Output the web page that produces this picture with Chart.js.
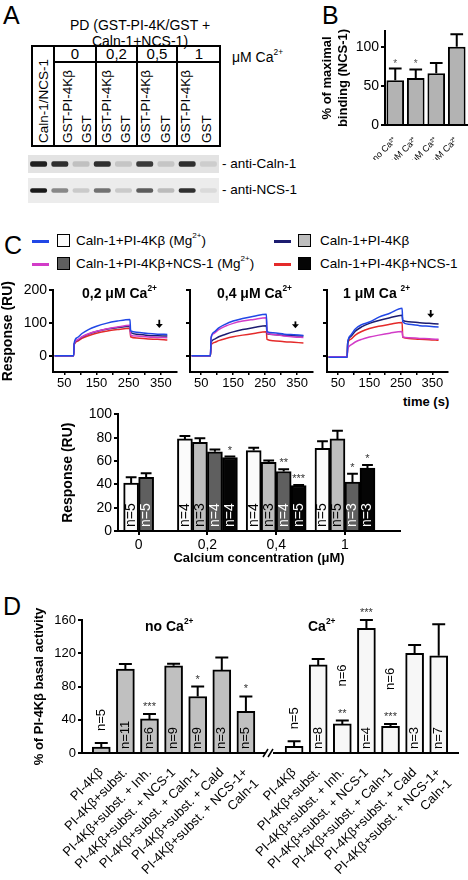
<!DOCTYPE html>
<html>
<head>
<meta charset="utf-8">
<title>PI-4Kβ / Caln-1 / NCS-1 figure</title>
<script src="https://cdn.jsdelivr.net/npm/chart.js@4.4.1/dist/chart.umd.min.js"></script>
<style>
  body { margin: 0; width: 468px; height: 880px; position: relative; overflow: hidden; background: #fff;
         font-family: "Liberation Sans", Arial, sans-serif; color: #000; }
  .t { position: absolute; white-space: nowrap; line-height: 1; }
  .letter { font-size: 25px; }
  .b { font-weight: bold; }
  sup { font-size: 60%; line-height: 0; position: relative; top: -0.15em; vertical-align: super; }
  canvas { position: absolute; }
  .blot { filter: blur(0.6px); }
  .ln { position: absolute; background: #000; }
  .rot { position: absolute; white-space: nowrap; transform-origin: 0 0; transform: rotate(-90deg);
         font-size: 13.5px; line-height: 15px; }
  .sw { position: absolute; width: 17px; height: 3px; }
  .sq { position: absolute; width: 11px; height: 11px; border: 1.5px solid #000; }
  .hd { position: absolute; top: 46px; font-size: 15px; text-align: center; line-height: 1; }
</style>
</head>
<body>

<!-- panel A -->
<div class="t letter" style="left:3px;top:3px">A</div>
<div class="t" style="left:40px;top:17px;width:200px;text-align:center;font-size:14px;line-height:16px">PD (GST-PI-4K/GST +<br>Caln-1+NCS-1)</div>
<div style="position:absolute;left:31px;top:45px;width:190px;height:102px;border:2px solid #000;box-sizing:border-box"></div>
<div class="ln" style="left:53px;top:45px;width:2px;height:102px"></div>
<div class="ln" style="left:95px;top:45px;width:2px;height:102px"></div>
<div class="ln" style="left:136px;top:45px;width:2px;height:102px"></div>
<div class="ln" style="left:176px;top:45px;width:2px;height:102px"></div>
<div class="ln" style="left:54px;top:61px;width:167px;height:2px"></div>
<div class="hd" style="left:55px;width:40px">0</div>
<div class="hd" style="left:97px;width:39px">0,2</div>
<div class="hd" style="left:138px;width:38px">0,5</div>
<div class="hd" style="left:178px;width:42px">1</div>
<div class="t" style="left:232px;top:50px;font-size:14px">μM Ca<sup>2+</sup></div>
<div class="rot" style="left:36px;top:143px">Caln-1/NCS-1</div>
<div class="rot" style="left:60px;top:143px">GST-PI-4Kβ</div>
<div class="rot" style="left:79px;top:143px">GST</div>
<div class="rot" style="left:99px;top:143px">GST-PI-4Kβ</div>
<div class="rot" style="left:118px;top:143px">GST</div>
<div class="rot" style="left:138px;top:143px">GST-PI-4Kβ</div>
<div class="rot" style="left:158px;top:143px">GST</div>
<div class="rot" style="left:178px;top:143px">GST-PI-4Kβ</div>
<div class="rot" style="left:199px;top:143px">GST</div>
<canvas id="blotCaln" class="blot" width="191" height="18" style="left:28px;top:155px;background:#e3e3e3"></canvas>
<canvas id="blotNcs" class="blot" width="191" height="25" style="left:28px;top:178px;background:#ececec"></canvas>
<div class="t" style="left:222px;top:157px;font-size:13.5px">- anti-Caln-1</div>
<div class="t" style="left:222px;top:183px;font-size:13.5px">- anti-NCS-1</div>

<!-- panel B -->
<div class="t letter" style="left:322px;top:3px">B</div>
<canvas id="chartB" width="148" height="140" style="left:320px;top:20px"></canvas>

<!-- panel C legend -->
<div class="t letter" style="left:4px;top:233px">C</div>
<div class="sw" style="left:32px;top:240px;background:#2147e6"></div>
<div class="sq" style="left:57px;top:234px;background:#fbfbfb"></div>
<div class="t" style="left:76px;top:234px;font-size:13.5px">Caln-1+PI-4Kβ (Mg<sup>2+</sup>)</div>
<div class="sw" style="left:32px;top:263px;background:#d23cc8"></div>
<div class="sq" style="left:57px;top:257px;background:#5f5f5f"></div>
<div class="t" style="left:76px;top:257px;font-size:13.5px">Caln-1+PI-4Kβ+NCS-1 (Mg<sup>2+</sup>)</div>
<div class="sw" style="left:274px;top:240px;background:#1c1c70"></div>
<div class="sq" style="left:298px;top:234px;background:#bdbdbd"></div>
<div class="t" style="left:320px;top:234px;font-size:13.5px">Caln-1+PI-4Kβ</div>
<div class="sw" style="left:274px;top:263px;background:#e42a2a"></div>
<div class="sq" style="left:298px;top:257px;background:#050505"></div>
<div class="t" style="left:320px;top:257px;font-size:13.5px">Caln-1+PI-4Kβ+NCS-1</div>

<!-- panel C sensorgrams -->
<canvas id="sensor1" width="180" height="112" style="left:0px;top:280px"></canvas>
<canvas id="sensor2" width="136" height="112" style="left:180px;top:280px"></canvas>
<canvas id="sensor3" width="135" height="112" style="left:316px;top:280px"></canvas>
<div class="t b" style="left:82px;top:286px;font-size:14px">0,2 μM Ca<sup>2+</sup></div>
<div class="t b" style="left:217px;top:286px;font-size:14px">0,4 μM Ca<sup>2+</sup></div>
<div class="t b" style="left:343px;top:286px;font-size:14px">1 μM Ca <sup>2+</sup></div>
<div class="t b" style="left:403px;top:395px;font-size:13px">time (s)</div>

<!-- panel C bars -->
<canvas id="chartCbars" width="345" height="166" style="left:60px;top:404px"></canvas>

<!-- panel D -->
<div class="t letter" style="left:3px;top:594px">D</div>
<canvas id="chartD" width="438" height="285" style="left:30px;top:595px"></canvas>
<div class="t b" style="left:145px;top:619px;font-size:14px">no Ca<sup>2+</sup></div>
<div class="t b" style="left:308px;top:619px;font-size:14px">Ca<sup>2+</sup></div>

<script>
const FONT = '"Liberation Sans", Arial, sans-serif'
Chart.defaults.font.family = FONT
Chart.defaults.color = "#000"
Chart.defaults.animation = false

// ---- A: blot band intensities per lane ----
const blotLanes = ["Caln-1/NCS-1", "GST-PI-4Kβ 0", "GST 0", "GST-PI-4Kβ 0,2", "GST 0,2",
                   "GST-PI-4Kβ 0,5", "GST 0,5", "GST-PI-4Kβ 1", "GST 1"]
const caln1Bands = [0.92, 0.85, 0.16, 0.85, 0.14, 0.8, 0.14, 0.85, 0.1]
const ncs1Bands = [0.95, 0.45, 0.15, 0.55, 0.15, 0.65, 0.22, 0.85, 0.08]

// ---- B: % of maximal binding (NCS-1) ----
const bLabels = ["no Ca²⁺", "0,2 μM Ca²⁺", "0,5 μM Ca²⁺", "1 μM Ca²⁺"]
const bValues = [57, 60, 66, 100]
const bErrors = [15, 11, 13, 16]
const bStars = ["*", "*", "", ""]

// ---- C: sensorgrams (time in s, response in RU) ----
const sensorTimes = [20, 79, 81, 90, 105, 125, 150, 180, 215, 254, 256, 275, 310, 340, 370]
const ca02Blue    = [0, 0, 40, 55, 68, 80, 90, 99, 106, 111, 76, 72, 68, 66, 65]
const ca02Magenta = [0, 0, 36, 48, 58, 67, 75, 82, 88, 93, 63, 60, 57, 56, 55]
const ca02Navy    = [0, 0, 36, 47, 57, 66, 74, 81, 86, 90, 71, 66, 62, 61, 60]
const ca02Red     = [0, 0, 34, 44, 53, 61, 69, 75, 80, 84, 58, 54, 51, 50, 48]
const ca04Blue    = [0, 0, 55, 72, 85, 96, 106, 114, 121, 127, 74, 70, 66, 64, 62]
const ca04Magenta = [0, 0, 55, 68, 80, 90, 99, 106, 111, 116, 70, 65, 60, 57, 56]
const ca04Navy    = [0, 0, 40, 50, 58, 65, 73, 80, 86, 92, 68, 65, 62, 61, 60]
const ca04Red     = [0, 0, 32, 40, 46, 52, 58, 63, 68, 73, 50, 46, 43, 41, 39]
const ca1Blue     = [-5, -5, 40, 62, 82, 95, 103, 118, 130, 145, 104, 96, 92, 90, 88]
const ca1Magenta  = [-3, -3, 20, 32, 42, 50, 57, 63, 69, 74, 58, 55, 53, 52, 50]
const ca1Navy     = [-5, -5, 40, 58, 75, 88, 99, 108, 116, 124, 108, 104, 101, 99, 97]
const ca1Red      = [-3, -3, 38, 50, 63, 74, 83, 90, 96, 102, 56, 53, 50, 49, 47]
const sensorTicks = [50, 100, 150, 200, 250, 300, 350]
const arrowTime = 345
const arrowRU = [[110, 85], [105, 84], [140, 116]]

// ---- C: steady-state response vs calcium ----
const concLabels = ["0", "0,2", "0,4", "1"]
const respMg      = [41, 79, 69, 71]
const respMgErr   = [5, 2.5, 2.5, 6]
const respMgN     = ["n=5", "n=4", "n=4", "n=5"]
const respPI      = [null, 76, 59, 79]
const respPIErr   = [0, 3.5, 1.5, 7]
const respPIN     = [null, "n=3", "n=3", "n=5"]
const respNcsMg   = [46, 68, 51, 42]
const respNcsMgErr = [3.5, 2, 2, 7]
const respNcsMgN  = ["n=5", "n=4", "n=4", "n=3"]
const respNcsMgStars = ["", "", "**", "*"]
const respNcs     = [null, 63, 39, 54]
const respNcsErr  = [0, 0.8, 0.5, 2.5]
const respNcsN    = [null, "n=4", "n=5", "n=3"]
const respNcsStars = ["", "*", "***", "*"]

// ---- D: % of PI-4Kβ basal activity ----
const dLabels = ["PI-4Kβ", "PI-4Kβ+subst.", "PI-4Kβ+subst. + Inh.", "PI-4Kβ+subst. + NCS-1",
                 "PI-4Kβ+subst. + Caln-1", "PI-4Kβ+subst. + Cald", ["PI-4Kβ+subst. + NCS-1+", "Caln-1"]]
const noCaValues = [7, 101, 41, 105, 68, 100, 50]
const noCaErrors = [5, 6, 6, 2.5, 12, 15, 18]
const noCaN      = ["n=5", "n=11", "n=6", "n=9", "n=9", "n=3", "n=5"]
const noCaStars  = ["", "", "***", "", "*", "", "*"]
const caValues   = [8, 106, 35, 150, 32, 120, 117]
const caErrors   = [6, 7, 4, 10, 3, 10, 38]
const caN        = ["n=5", "n=8", "n=6", "n=4", "n=6", "n=3", "n=7"]
const caStars    = ["", "", "**", "***", "***", "", ""]

const setTicks = (values) => (scale) => { scale.ticks = values.map(v => ({ value: v })) }

// one-sided error bars with a cap
const errorBars = {
  id: "errorBars",
  afterDatasetsDraw(chart) {
    const ctx = chart.ctx
    const y = chart.scales.y
    chart.data.datasets.forEach((ds, di) => {
      if (!ds.errors) return
      chart.getDatasetMeta(di).data.forEach((bar, i) => {
        const raw = ds.data[i]
        const v = raw !== null && typeof raw === "object" ? raw.y : raw
        const e = ds.errors[i]
        if (v == null || !e) return
        const top = y.getPixelForValue(v + e)
        const half = bar.width * 0.36
        ctx.save()
        ctx.strokeStyle = "#000"
        ctx.lineWidth = 2
        ctx.beginPath()
        ctx.moveTo(bar.x, bar.y)
        ctx.lineTo(bar.x, top)
        ctx.moveTo(bar.x - half, top)
        ctx.lineTo(bar.x + half, top)
        ctx.stroke()
        ctx.restore()
      })
    })
  }
}

// significance stars and rotated n= labels
const barNotes = {
  id: "barNotes",
  afterDatasetsDraw(chart, args, opts) {
    const ctx = chart.ctx
    const y = chart.scales.y
    chart.data.datasets.forEach((ds, di) => {
      chart.getDatasetMeta(di).data.forEach((bar, i) => {
        const raw = ds.data[i]
        const v = raw !== null && typeof raw === "object" ? raw.y : raw
        if (v == null) return
        const errTop = y.getPixelForValue(v + ((ds.errors && ds.errors[i]) || 0))
        const star = ds.stars && ds.stars[i]
        ctx.save()
        if (star) {
          ctx.font = opts.starFont
          ctx.fillStyle = opts.starColor || "#000"
          ctx.textAlign = "center"
          ctx.textBaseline = "alphabetic"
          ctx.fillText(star, bar.x, errTop - opts.starGap + 6)
        }
        const n = ds.nLabels && ds.nLabels[i]
        if (n) {
          let start
          if (v >= (opts.insideMin || 0)) start = bar.base - opts.nPad
          else start = errTop - opts.aboveGap - (star ? opts.starRoom : 0)
          ctx.translate(bar.x, start)
          ctx.rotate(-Math.PI / 2)
          ctx.font = opts.nFont
          ctx.fillStyle = ds.nColor || "#000"
          ctx.textAlign = "left"
          ctx.textBaseline = "middle"
          ctx.fillText(n, 0, 0)
        }
        ctx.restore()
      })
    })
  }
}

// down arrow marking the dissociation read-out
const arrowMark = {
  id: "arrowMark",
  afterDatasetsDraw(chart, args, opts) {
    if (!opts.ru) return
    const { ctx, scales: { x, y } } = chart
    const px = x.getPixelForValue(opts.time)
    const y0 = y.getPixelForValue(opts.ru[0])
    const y1 = y.getPixelForValue(opts.ru[1])
    ctx.save()
    ctx.strokeStyle = "#000"
    ctx.fillStyle = "#000"
    ctx.lineWidth = 1.8
    ctx.beginPath()
    ctx.moveTo(px, y0)
    ctx.lineTo(px, y1 - 3)
    ctx.stroke()
    ctx.beginPath()
    ctx.moveTo(px - 3.5, y1 - 4)
    ctx.lineTo(px + 3.5, y1 - 4)
    ctx.lineTo(px, y1)
    ctx.closePath()
    ctx.fill()
    ctx.restore()
  }
}

// "//" break on the x axis
const axisBreak = {
  id: "axisBreak",
  afterDraw(chart, args, opts) {
    if (opts.at == null) return
    const { ctx, scales: { x }, chartArea } = chart
    const px = x.getPixelForValue(opts.at)
    const py = chartArea.bottom
    ctx.save()
    ctx.fillStyle = "#fff"
    ctx.fillRect(px - 4, py - 3, 7, 6)
    ctx.strokeStyle = "#000"
    ctx.lineWidth = 1.5
    ctx.beginPath()
    ctx.moveTo(px - 7, py + 4); ctx.lineTo(px - 2, py - 4)
    ctx.moveTo(px - 2, py + 4); ctx.lineTo(px + 3, py - 4)
    ctx.stroke()
    ctx.restore()
  }
}

// ---- A: blots ----
function blotChart(id, bands, yRange) {
  new Chart(document.getElementById(id), {
    type: "bar",
    data: {
      labels: blotLanes,
      datasets: [{
        data: bands.map(() => [-1, 1]),
        backgroundColor: bands.map(a => `rgba(15, 15, 15, ${a})`),
        borderRadius: 2,
        borderSkipped: false,
        barPercentage: 0.8,
        categoryPercentage: 1
      }]
    },
    options: {
      responsive: false,
      plugins: { legend: { display: false }, tooltip: { enabled: false } },
      scales: {
        x: { display: false },
        y: { display: false, min: -yRange, max: yRange }
      }
    }
  })
}
blotChart("blotCaln", caln1Bands, 3.4)
blotChart("blotNcs", ncs1Bands, 5.5)

// ---- B ----
new Chart(document.getElementById("chartB"), {
  type: "bar",
  data: {
    labels: bLabels,
    datasets: [{
      data: bValues, errors: bErrors, stars: bStars,
      backgroundColor: "#b3b3b3", borderColor: "#000", borderWidth: 2,
      barPercentage: 0.86, categoryPercentage: 1
    }]
  },
  options: {
    responsive: false,
    layout: { padding: { top: 11, right: 1 } },
    plugins: {
      legend: { display: false }, tooltip: { enabled: false },
      barNotes: { starFont: `10px ${FONT}`, starColor: "#555", starGap: 8 }
    },
    scales: {
      x: {
        border: { color: "#000", width: 2 },
        grid: { display: false },
        ticks: { minRotation: 45, maxRotation: 45, font: { size: 9 }, padding: 2 },
        afterFit: s => { s.height = 35 }
      },
      y: {
        min: 0, max: 120,
        afterBuildTicks: setTicks([0, 50, 100]),
        border: { color: "#000", width: 2 },
        grid: { drawOnChartArea: false, color: "#000", lineWidth: 2, tickLength: 4 },
        ticks: { font: { size: 14 }, padding: 2 },
        title: { display: true, text: ["% of maximal", "binding (NCS-1)"], font: { size: 13, weight: "bold" }, padding: 0 },
        afterFit: s => { s.width = 65 }
      }
    }
  },
  plugins: [errorBars, barNotes]
})

// ---- C: sensorgrams ----
const SENS_COLORS = { blue: "#2147e6", magenta: "#d23cc8", navy: "#1c1c70", red: "#e42a2a" }

function sensorChart(id, curves, arrow, showLabels, yWidth) {
  new Chart(document.getElementById(id), {
    type: "line",
    data: {
      datasets: curves.map(([vals, color]) => ({
        data: sensorTimes.map((t, i) => ({ x: t, y: vals[i] })),
        borderColor: color, borderWidth: 1.5, pointRadius: 0,
        cubicInterpolationMode: "monotone"
      }))
    },
    options: {
      responsive: false,
      layout: { padding: { top: 7, right: 3 } },
      plugins: {
        legend: { display: false }, tooltip: { enabled: false },
        arrowMark: { time: arrowTime, ru: arrow }
      },
      scales: {
        x: {
          type: "linear", min: 15, max: 400,
          afterBuildTicks: setTicks(sensorTicks),
          border: { color: "#000", width: 2 },
          grid: { drawOnChartArea: false, color: "#000", lineWidth: 1.5, tickLength: 3 },
          ticks: { autoSkip: false, maxRotation: 0, font: { size: 13 }, padding: 1,
                   callback: v => ((v - 50) % 100 === 0 ? String(v) : "") },
          afterFit: s => { s.height = 20 }
        },
        y: {
          min: -50, max: 200,
          afterBuildTicks: setTicks([0, 100, 200]),
          border: { color: "#000", width: 2 },
          grid: { drawOnChartArea: false, color: "#000", lineWidth: 2, tickLength: 4 },
          ticks: { font: { size: 14 }, padding: 2, callback: v => (showLabels ? String(v) : "") },
          title: { display: showLabels, text: "Response (RU)", font: { size: 14, weight: "bold" }, padding: 0 },
          afterFit: s => { s.width = yWidth }
        }
      }
    },
    plugins: [arrowMark]
  })
}

sensorChart("sensor1", [[ca02Blue, SENS_COLORS.blue], [ca02Magenta, SENS_COLORS.magenta],
                        [ca02Navy, SENS_COLORS.navy], [ca02Red, SENS_COLORS.red]], arrowRU[0], true, 53)
sensorChart("sensor2", [[ca04Blue, SENS_COLORS.blue], [ca04Magenta, SENS_COLORS.magenta],
                        [ca04Navy, SENS_COLORS.navy], [ca04Red, SENS_COLORS.red]], arrowRU[1], false, 10)
sensorChart("sensor3", [[ca1Blue, SENS_COLORS.blue], [ca1Magenta, SENS_COLORS.magenta],
                        [ca1Navy, SENS_COLORS.navy], [ca1Red, SENS_COLORS.red]], arrowRU[2], false, 11)

// ---- C: bars ----
const toXY = vals => vals.map((v, i) => ({ x: i, y: v }))
const cBarSets = [
  { data: toXY(respMg), errors: respMgErr, nLabels: respMgN, backgroundColor: "#fbfbfb", nColor: "#000" },
  { data: toXY(respPI), errors: respPIErr, nLabels: respPIN, backgroundColor: "#bdbdbd", nColor: "#000" },
  { data: toXY(respNcsMg), errors: respNcsMgErr, nLabels: respNcsMgN, stars: respNcsMgStars, backgroundColor: "#5f5f5f", nColor: "#fff" },
  { data: toXY(respNcs), errors: respNcsErr, nLabels: respNcsN, stars: respNcsStars, backgroundColor: "#050505", nColor: "#fff" }
].map(ds => Object.assign(ds, { borderColor: "#000", borderWidth: 2, barThickness: 15, skipNull: true }))

new Chart(document.getElementById("chartCbars"), {
  type: "bar",
  data: { datasets: cBarSets },
  options: {
    responsive: false,
    layout: { padding: { top: 10, right: 5 } },
    plugins: {
      legend: { display: false }, tooltip: { enabled: false },
      barNotes: { starFont: `11px ${FONT}`, starColor: "#333", starGap: 9, nFont: `14px ${FONT}`, nPad: 3 }
    },
    scales: {
      x: {
        type: "linear", min: -0.3, max: 3.8, offset: false,
        afterBuildTicks: setTicks([0, 1, 2, 3]),
        border: { color: "#000", width: 2 },
        grid: { offset: false, drawOnChartArea: false, color: "#000", lineWidth: 2, tickLength: 4 },
        ticks: { maxRotation: 0, font: { size: 14 }, padding: 2, callback: v => concLabels[v] },
        title: { display: true, text: "Calcium concentration (μM)", font: { size: 13, weight: "bold" }, padding: { top: 4 } },
        afterFit: s => { s.height = 39 }
      },
      y: {
        min: 0, max: 100,
        ticks: { stepSize: 20, font: { size: 14 }, padding: 2 },
        border: { color: "#000", width: 2 },
        grid: { drawOnChartArea: false, color: "#000", lineWidth: 2, tickLength: 4 },
        title: { display: true, text: "Response (RU)", font: { size: 14, weight: "bold" }, padding: 0 },
        afterFit: s => { s.width = 58 }
      }
    }
  },
  plugins: [errorBars, barNotes]
})

// ---- D ----
const caOffset = dLabels.length + 1
const dPositions = dLabels.map((_, i) => i).concat(dLabels.map((_, i) => i + caOffset))

new Chart(document.getElementById("chartD"), {
  type: "bar",
  data: {
    datasets: [
      { data: noCaValues.map((v, i) => ({ x: i, y: v })), errors: noCaErrors, nLabels: noCaN, stars: noCaStars,
        backgroundColor: "#c0c0c0" },
      { data: caValues.map((v, i) => ({ x: i + caOffset, y: v })), errors: caErrors, nLabels: caN, stars: caStars,
        backgroundColor: "#f7f7f7" }
    ].map(ds => Object.assign(ds, { borderColor: "#000", borderWidth: 2, barThickness: 18, grouped: false }))
  },
  options: {
    responsive: false,
    layout: { padding: { top: 25, right: 10 } },
    plugins: {
      legend: { display: false }, tooltip: { enabled: false },
      barNotes: { starFont: `11px ${FONT}`, starColor: "#333", starGap: 10, nFont: `13px ${FONT}`, nPad: 3,
                  insideMin: 40, aboveGap: 12, starRoom: 22 },
      axisBreak: { at: dLabels.length }
    },
    scales: {
      x: {
        type: "linear", min: -0.8, max: 14.8, offset: false,
        afterBuildTicks: setTicks(dPositions),
        border: { color: "#000", width: 2 },
        grid: { display: false },
        ticks: { autoSkip: false, minRotation: 45, maxRotation: 45, font: { size: 13 }, padding: 4,
                 callback: v => dLabels[v < caOffset ? v : v - caOffset] },
        afterFit: s => { s.height = 127 }
      },
      y: {
        min: 0, max: 160,
        ticks: { stepSize: 20, font: { size: 13 }, padding: 2 },
        border: { color: "#000", width: 2 },
        grid: { drawOnChartArea: false, color: "#000", lineWidth: 2, tickLength: 4 },
        title: { display: true, text: "% of PI-4Kβ basal activity", font: { size: 13, weight: "bold" }, padding: 2 },
        afterFit: s => { s.width = 52 }
      }
    }
  },
  plugins: [errorBars, barNotes, axisBreak]
})
</script>
</body>
</html>
